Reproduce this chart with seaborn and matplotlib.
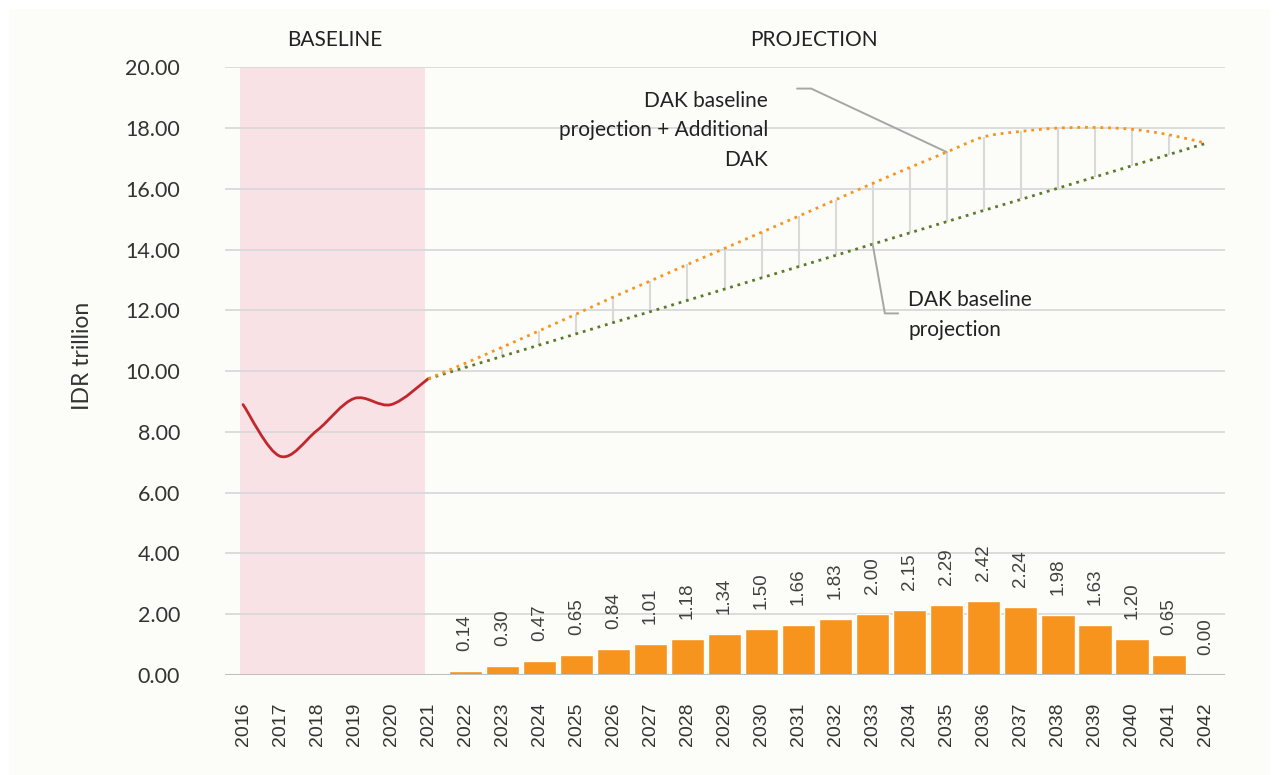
import numpy as np
import pandas as pd
import matplotlib
matplotlib.use("Agg")
import matplotlib.pyplot as plt
import seaborn as sns
from matplotlib.path import Path
from matplotlib.patches import PathPatch, Rectangle

# Dados
anos = [str(a) for a in range(2016, 2043)]
anos_hist = ["2016", "2017", "2018", "2019", "2020", "2021"]
dak_hist = [8.90, 7.20, 8.05, 9.10, 8.90, 9.75]

anos_proj = [str(a) for a in range(2021, 2043)]
dak_base_proj = [9.75, 10.12, 10.49, 10.86, 11.23, 11.60, 11.96, 12.33, 12.70, 13.07, 13.44,
                 13.81, 14.18, 14.55, 14.92, 15.29, 15.65, 16.02, 16.39, 16.76, 17.13, 17.50]
dak_adicional = [0.00, 0.14, 0.30, 0.47, 0.65, 0.84, 1.01, 1.18, 1.34, 1.50, 1.66,
                 1.83, 2.00, 2.15, 2.29, 2.42, 2.24, 1.98, 1.63, 1.20, 0.65, 0.00]

# Cores
vermelho = "#C1272D"
laranja = "#F7941D"
verde = "#5B7B2B"
rosa = "#F9E2E5"
cinza_grid = "#D9D9D9"
cinza_leader = "#A6A6A6"
fundo = "#FCFCF8"

sns.set_theme(style="white")
plt.rcParams["font.family"] = ["Lato", "DejaVu Sans"]

fig = plt.figure(figsize=(12.79, 7.75), dpi=100, facecolor="white")
fig.patches.append(Rectangle((9 / 1279, 0), 1261 / 1279, 766 / 775, transform=fig.transFigure,
                             facecolor=fundo, edgecolor="none", zorder=-10))
ax = fig.add_axes([224.5 / 1279, 100 / 775, 1000 / 1279, 607.7 / 775])
ax.set_facecolor("none")

pos = {a: i for i, a in enumerate(anos)}

# Barras (DAK adicional), 2022-2042
df_bar = pd.DataFrame({"ano": anos_proj[1:], "valor": dak_adicional[1:]})
sns.barplot(data=df_bar, x="ano", y="valor", order=anos, color=laranja, saturation=1,
            width=0.9, errorbar=None, ax=ax, zorder=3)

for a, v in zip(df_bar["ano"], df_bar["valor"]):
    ax.annotate(f"{v:.2f}", (pos[a], v), xytext=(0, 14.4), textcoords="offset points",
                rotation=90, ha="center", va="bottom", fontsize=13.5,
                family="Liberation Sans", color="#404040", zorder=5)


def curva_suave(xs, ys):
    # curva bezier tipo Excel (linha suavizada)
    pts = np.column_stack([xs, ys]).astype(float)
    n = len(pts)
    verts = [pts[0]]
    codes = [Path.MOVETO]
    for i in range(n - 1):
        p0 = pts[max(i - 1, 0)]
        p1 = pts[i]
        p2 = pts[i + 1]
        p3 = pts[min(i + 2, n - 1)]
        c1 = p1 + (p2 - p0) / 6
        c2 = p2 - (p3 - p1) / 6
        verts += [c1, c2, p2]
        codes += [Path.CURVE4] * 3
    return Path(verts, codes)


x_hist = [pos[a] for a in anos_hist]
x_proj = [pos[a] for a in anos_proj]
total_proj = [b + c for b, c in zip(dak_base_proj, dak_adicional)]

# Linhas verticais entre as projeções
ax.vlines(x_proj[1:-1], dak_base_proj[1:-1], total_proj[1:-1], color=cinza_grid, lw=1.5, zorder=4)

# Histórico
ax.add_patch(PathPatch(curva_suave(x_hist, dak_hist), fill=False, edgecolor=vermelho,
                       lw=2.0, capstyle="round", zorder=6))
# Projeção base
sns.lineplot(x=x_proj, y=dak_base_proj, color=verde, lw=2.0, ax=ax, zorder=6,
             linestyle=(0, (1, 1.77)))
# Projeção + adicional
ax.add_patch(PathPatch(curva_suave(x_proj, total_proj), fill=False, edgecolor=laranja,
                       lw=2.0, linestyle=(0, (1, 1.77)), capstyle="butt", zorder=7))

# Faixa do período base
ax.axvspan(-0.07, 4.9, color=rosa, zorder=0, lw=0)

ax.set_xlim(-0.5, 26.5)
ax.set_ylim(0, 20)
ax.set_yticks(np.arange(0, 20.1, 2))
ax.set_yticklabels([f"{v:.2f}" for v in np.arange(0, 20.1, 2)], fontsize=15.5, color="#333333")
ax.set_xticks(range(len(anos)))
ax.set_xticklabels(anos, rotation=90, fontsize=14, family="Liberation Sans", color="#333333")
ax.tick_params(axis="y", length=0, pad=32)
ax.tick_params(axis="x", length=0, pad=20)
ax.yaxis.grid(True, color=cinza_grid, lw=1.3, zorder=1)
ax.xaxis.grid(False)
ax.set_axisbelow(True)
ax.axhline(0, color="#BFBFBF", lw=2.2, zorder=4)
for s in ax.spines.values():
    s.set_visible(False)
ax.set_xlabel("")
ax.set_ylabel("IDR trillion", fontsize=16.5, color="#333333")
ax.yaxis.set_label_coords((93 - 224.5) / 1000, (675 - 356) / 607.7)

# Títulos das regiões
ax.text(2.49, 20.9, "BASELINE", ha="center", va="center", fontsize=15, color="#222222")
ax.text(15.42, 20.9, "PROJECTION", ha="center", va="center", fontsize=15, color="#222222")

# Anotações
ax.text(14.18, 17.93, "DAK baseline\nprojection + Additional\nDAK", ha="right", va="center",
        fontsize=15, color="#222222", linespacing=1.6, zorder=8)
ax.plot([14.96, 15.34, 19.0], [19.30, 19.30, 17.21], color=cinza_leader, lw=1.4, zorder=8)

ax.text(17.96, 11.84, "DAK baseline\nprojection", ha="left", va="center",
        fontsize=15, color="#222222", linespacing=1.6, zorder=8)
ax.plot([17.0, 17.33, 17.69], [14.18, 11.90, 11.90], color=cinza_leader, lw=1.4, zorder=8)

fig.savefig("out.png", dpi=100, facecolor=fig.get_facecolor())
